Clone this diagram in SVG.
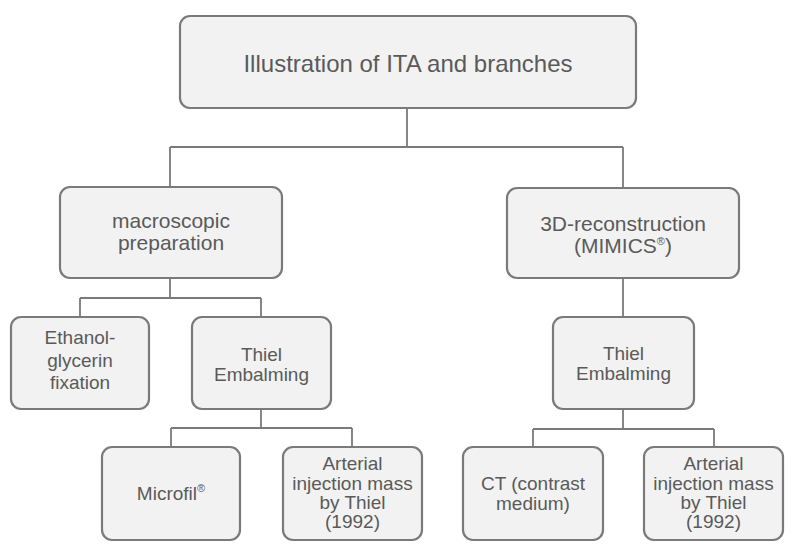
<svg xmlns="http://www.w3.org/2000/svg" width="797" height="552" viewBox="0 0 797 552">
<style>
.box{fill:#f2f2f2;stroke:#7a7a7a;stroke-width:2.2}
.t{font-family:"Liberation Sans",Arial,sans-serif;fill:#5a5a5a;text-anchor:middle}
.t24{font-size:24px}
.t21{font-size:21px}
.t19{font-size:19px}
.sup{font-size:11px}
#connectors path{fill:none;stroke:#7a7a7a;stroke-width:1.8}
</style>
<rect width="797" height="552" fill="#ffffff"/>
<g id="connectors">
<path d="M407 108V147M170 147H623M170 147V187M623 147V188"/>
<path d="M170 278V298M80 298H261M80 298V317M261 298V317"/>
<path d="M623 278V317"/>
<path d="M261 409V428M171 428H352M171 428V447M352 428V447"/>
<path d="M623 409V429M533 429H714M533 429V447M714 429V447"/>
</g>
<g id="n-root">
<rect class="box" x="180" y="16" width="456" height="92" rx="10"/>
<text class="t t24" x="408" y="72">Illustration of ITA and branches</text>
</g>
<g id="n-macro">
<rect class="box" x="60" y="187" width="222" height="91" rx="10"/>
<text class="t t21" x="171" y="228">macroscopic</text>
<text class="t t21" x="171" y="250">preparation</text>
</g>
<g id="n-3d">
<rect class="box" x="507" y="188" width="232" height="90" rx="10"/>
<text class="t t21" x="623" y="231">3D-reconstruction</text>
<text class="t t21" x="623" y="253">(MIMICS<tspan class="sup" dy="-8">®</tspan><tspan dy="8">)</tspan></text>
</g>
<g id="n-ethanol">
<rect class="box" x="11" y="317" width="138" height="92" rx="10"/>
<text class="t t19" x="80" y="344">Ethanol-</text>
<text class="t t19" x="80" y="367">glycerin</text>
<text class="t t19" x="80" y="389">fixation</text>
</g>
<g id="n-thiel-left">
<rect class="box" x="192" y="317" width="139" height="92" rx="10"/>
<text class="t t19" x="261.5" y="361">Thiel</text>
<text class="t t19" x="261.5" y="381">Embalming</text>
</g>
<g id="n-thiel-right">
<rect class="box" x="553" y="317" width="141" height="92" rx="10"/>
<text class="t t19" x="623.5" y="360">Thiel</text>
<text class="t t19" x="623.5" y="380">Embalming</text>
</g>
<g id="n-microfil">
<rect class="box" x="102" y="447" width="138" height="93" rx="10"/>
<text class="t t19" x="171" y="500">Microfil<tspan class="sup" dy="-8">®</tspan></text>
</g>
<g id="n-arterial-left">
<rect class="box" x="283" y="447" width="139" height="93" rx="10"/>
<text class="t t19" x="352.5" y="470">Arterial</text>
<text class="t t19" x="352.5" y="490">injection mass</text>
<text class="t t19" x="352.5" y="509">by Thiel</text>
<text class="t t19" x="352.5" y="528">(1992)</text>
</g>
<g id="n-ct">
<rect class="box" x="463" y="447" width="140" height="93" rx="10"/>
<text class="t t19" x="533" y="490">CT (contrast</text>
<text class="t t19" x="533" y="510">medium)</text>
</g>
<g id="n-arterial-right">
<rect class="box" x="644" y="447" width="139" height="93" rx="10"/>
<text class="t t19" x="713.5" y="470">Arterial</text>
<text class="t t19" x="713.5" y="490">injection mass</text>
<text class="t t19" x="713.5" y="509">by Thiel</text>
<text class="t t19" x="713.5" y="528">(1992)</text>
</g>
</svg>
